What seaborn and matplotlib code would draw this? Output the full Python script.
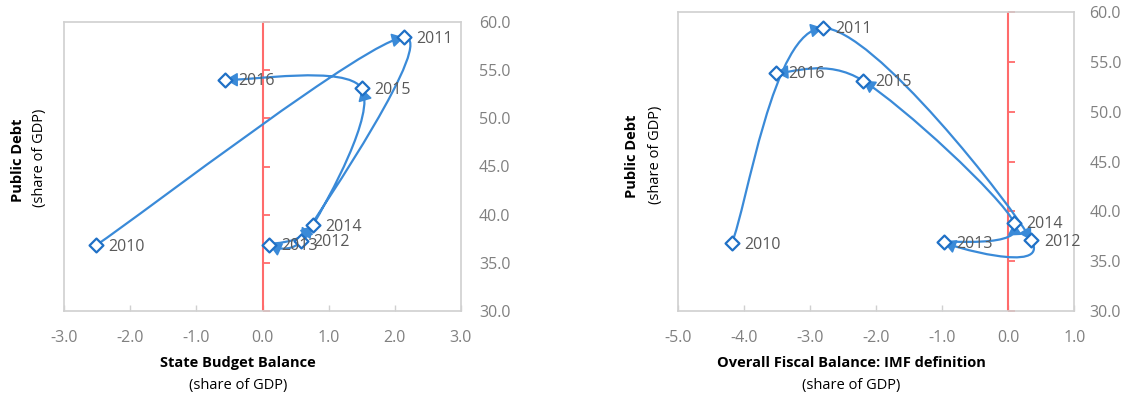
import numpy as np
import pandas as pd
import matplotlib
matplotlib.use("Agg")
import matplotlib.pyplot as plt
from matplotlib.path import Path
from matplotlib.patches import PathPatch
import seaborn as sns

# ---- data -------------------------------------------------------------
years = ["2010", "2011", "2012", "2013", "2014", "2015", "2016"]
public_debt_left = [36.8, 58.4, 37.3, 36.9, 38.9, 53.1, 54.0]
state_budget_balance = [-2.52, 2.14, 0.58, 0.10, 0.76, 1.50, -0.56]

public_debt_right = [36.8, 58.4, 37.1, 36.9, 38.85, 53.1, 53.9]
overall_fiscal_balance = [-4.19, -2.81, 0.35, -0.98, 0.09, -2.20, -3.52]

x_ticks_left = [-3.0, -2.0, -1.0, 0.0, 1.0, 2.0, 3.0]
x_ticks_right = [-5.0, -4.0, -3.0, -2.0, -1.0, 0.0, 1.0]
y_ticks = [30.0, 35.0, 40.0, 45.0, 50.0, 55.0, 60.0]

# ---- style ------------------------------------------------------------
sns.set_theme(style="white")
plt.rcParams["font.family"] = ["Open Sans", "DejaVu Sans"]

LINE = "#3A8AD8"
MARK = "#1F70C6"
RED = "#FF6B6B"
FRAME = "#D0D0D0"
TICKTXT = "#808080"
LABELTXT = "#595959"

W, H = 1133, 399
fig = plt.figure(figsize=(W / 100, H / 100), dpi=100)
fig.patch.set_facecolor("white")


def bezier(p0, c1, c2, p1, t):
    u = 1 - t
    return u**3 * p0 + 3 * u * u * t * c1 + 3 * u * t * t * c2 + t**3 * p1


def smooth_path(ax, xs, ys):
    """Smoothed Bezier path through the points, tangents built in screen space."""
    to_px = ax.transData
    to_data = ax.transData.inverted()
    P = to_px.transform(np.column_stack([xs, ys]).astype(float))
    n = len(P)

    def handle(i, j):
        # control handle at point i, oriented along the neighbours,
        # limited by the length of the segment i-j
        a = P[i - 1] if i > 0 else P[i]
        b = P[i + 1] if i + 1 < n else P[i]
        t = (b - a) / 6.0
        seg = np.hypot(*(P[j] - P[i]))
        ln = np.hypot(*t)
        cap = 0.5 * seg
        if ln > cap and ln > 0:
            t = t * cap / ln
        return t

    verts = [P[0]]
    codes = [Path.MOVETO]
    segs = []
    for i in range(n - 1):
        c1 = P[i] + handle(i, i + 1)
        c2 = P[i + 1] - handle(i + 1, i)
        verts += [c1, c2, P[i + 1]]
        codes += [Path.CURVE4] * 3
        segs.append((P[i], c1, c2, P[i + 1]))
    verts_data = to_data.transform(np.array(verts))
    return Path(verts_data, codes), segs, to_data


def draw_panel(ax, xs, ys, xlim, xticks, ytick_pad):
    ax.set_xlim(*xlim)
    ax.set_ylim(30, 60)

    # zero line with its tick marks
    ax.axvline(0, color=RED, lw=1.5, zorder=1)
    ax.plot([0] * len(y_ticks), y_ticks, linestyle="none", marker=1,
            markersize=5, markeredgewidth=1.3, color=RED, zorder=1,
            clip_on=False)

    path, segs, to_data = smooth_path(ax, xs, ys)
    ax.add_patch(PathPatch(path, facecolor="none", edgecolor=LINE, lw=1.6,
                           zorder=2, capstyle="round", joinstyle="round"))

    # arrow heads at the end of every segment, following the last stretch
    # of the curve
    head_px = 9.0
    for p0, c1, c2, p1 in segs:
        lo, hi = 0.0, 1.0
        for _ in range(40):
            mid = 0.5 * (lo + hi)
            if np.hypot(*(p1 - bezier(p0, c1, c2, p1, mid))) > head_px:
                lo = mid
            else:
                hi = mid
        q = bezier(p0, c1, c2, p1, lo)
        d = p1 - q
        d = d / np.hypot(*d)
        ax.annotate("", xy=to_data.transform(p1), xycoords="data",
                    xytext=(-d[0] * 7, -d[1] * 7), textcoords="offset points",
                    arrowprops=dict(arrowstyle="-|>,head_length=0.6,head_width=0.35",
                                    color=LINE, lw=1.2, shrinkA=0, shrinkB=0,
                                    mutation_scale=12),
                    zorder=3)

    df = pd.DataFrame({"x": xs, "y": ys, "year": years})
    sns.scatterplot(data=df, x="x", y="y", ax=ax, marker="D", s=50,
                    facecolor="white", edgecolor=MARK, linewidth=1.6,
                    zorder=4, legend=False)

    for xv, yv, yr in zip(xs, ys, years):
        ax.annotate(yr, (xv, yv), xytext=(9, -1), textcoords="offset points",
                    ha="left", va="center", fontsize=11.5, color=LABELTXT,
                    zorder=5)

    ax.set_xticks(xticks)
    ax.set_xticklabels([f"{t:.1f}" for t in xticks])
    ax.set_yticks(y_ticks)
    ax.set_yticklabels([f"{t:.1f}" for t in y_ticks])
    ax.yaxis.tick_right()
    ax.tick_params(axis="y", which="both", length=0, pad=ytick_pad,
                   labelsize=11.5, labelcolor=TICKTXT, right=False, left=False)
    ax.tick_params(axis="x", direction="in", length=4.5, width=1,
                   color=FRAME, pad=14, labelsize=11.5, labelcolor=TICKTXT,
                   bottom=True)
    for s in ax.spines.values():
        s.set_color(FRAME)
        s.set_linewidth(1.2)
    ax.set_xlabel("")
    ax.set_ylabel("")


axL = fig.add_axes([64 / W, 1 - 311 / H, 397 / W, 289 / H])
axR = fig.add_axes([678.3 / W, 1 - 311 / H, 396 / W, 299 / H])

draw_panel(axL, state_budget_balance, public_debt_left, (-3, 3), x_ticks_left, 13)
draw_panel(axR, overall_fiscal_balance, public_debt_right, (-5, 1), x_ticks_right, 11)

# axis titles
for xc, yc in [(18, 160), (632, 156)]:
    fig.text(xc / W, 1 - yc / H, "Public Debt", rotation=90, ha="center",
             va="center", fontsize=10.5, fontweight="bold", color="black")
for xc, yc in [(40, 158), (655, 155)]:
    fig.text(xc / W, 1 - yc / H, "(share of GDP)", rotation=90, ha="center",
             va="center", fontsize=10.5, color="black")

fig.text(238 / W, 1 - 363 / H, "State Budget Balance", ha="center",
         va="center", fontsize=10.5, fontweight="bold", color="black")
fig.text(238 / W, 1 - 386 / H, "(share of GDP)", ha="center", va="center",
         fontsize=10.5, color="black")
fig.text(851 / W, 1 - 363 / H, "Overall Fiscal Balance: IMF definition",
         ha="center", va="center", fontsize=10.5, fontweight="bold",
         color="black")
fig.text(851 / W, 1 - 386 / H, "(share of GDP)", ha="center", va="center",
         fontsize=10.5, color="black")

fig.savefig("out.png", dpi=100, facecolor="white")
